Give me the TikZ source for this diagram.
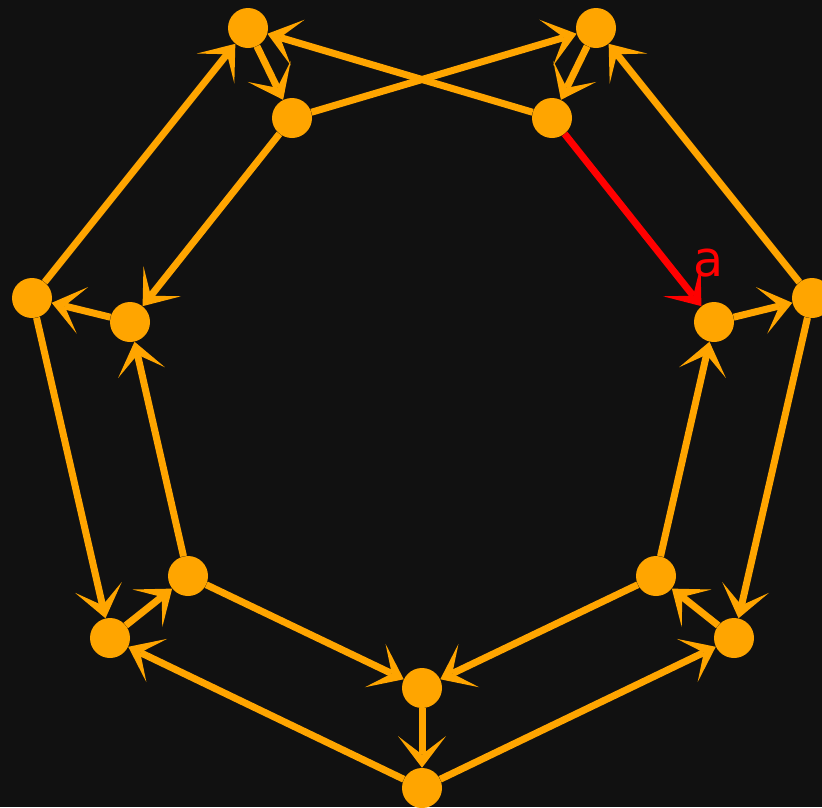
\documentclass[tikz,border=0pt]{standalone}
\usepackage{fontspec}
\setsansfont{DejaVu Sans}
\usetikzlibrary{arrows.meta}
\definecolor{bgdark}{HTML}{111111}
\definecolor{vxorange}{HTML}{FFA500}
\definecolor{edred}{HTML}{FF0000}

\begin{document}
\begin{tikzpicture}[x=0.03cm, y=-0.03cm,
      vx/.style={circle,fill=vxorange,minimum size=1.2cm,inner sep=0pt},
      ed/.style={draw=vxorange,line width=0.21cm,
                 -{Stealth[length=0.95cm,width=1.44cm,inset=0.55cm,line width=0pt]}}]
    \fill[bgdark] (0,0) rectangle (822,807);
    \clip (0,0) rectangle (822,807);

    % outer ring
    \node[vx] (o1) at (248,28)  {};
    \node[vx] (o2) at (596,28)  {};
    \node[vx] (o3) at (812,298) {};
    \node[vx] (o4) at (734,638) {};
    \node[vx] (o5) at (422,788) {};
    \node[vx] (o6) at (110,638) {};
    \node[vx] (o7) at (32,298)  {};
    % inner ring
    \node[vx] (i1) at (292,118) {};
    \node[vx] (i2) at (552,118) {};
    \node[vx] (i3) at (714,322) {};
    \node[vx] (i4) at (656,576) {};
    \node[vx] (i5) at (422,688) {};
    \node[vx] (i6) at (188,576) {};
    \node[vx] (i7) at (130,322) {};

    \draw[ed] (o7)--(o1);
    \draw[ed] (o1)--(i1);
    \draw[ed] (i1)--(i7);
    \draw[ed] (i7)--(o7);
    \draw[ed] (o7)--(o6);
    \draw[ed] (i6)--(i7);
    \draw[ed] (o6)--(i6);
    \draw[ed] (o5)--(o6);
    \draw[ed] (i6)--(i5);
    \draw[ed] (i4)--(i5);
    \draw[ed] (i5)--(o5);
    \draw[ed] (o5)--(o4);
    \draw[ed] (o4)--(i4);
    \draw[ed] (o3)--(o4);
    \draw[ed] (i4)--(i3);
    \draw[ed] (i3)--(o3);
    \draw[ed] (o3)--(o2);
    \draw[ed] (i2)--(o1);
    \draw[ed] (i1)--(o2);
    \draw[ed] (o2)--(i2);

    % highlighted edge
    \draw[ed,draw=edred] (i2)--
      node[pos=1,anchor=base,inner sep=0pt,xshift=0.2cm,yshift=0.9cm,
           text=edred,font=\sffamily\fontsize{42}{50}\selectfont]{a}
      (i3);
  \end{tikzpicture}
\end{document}
